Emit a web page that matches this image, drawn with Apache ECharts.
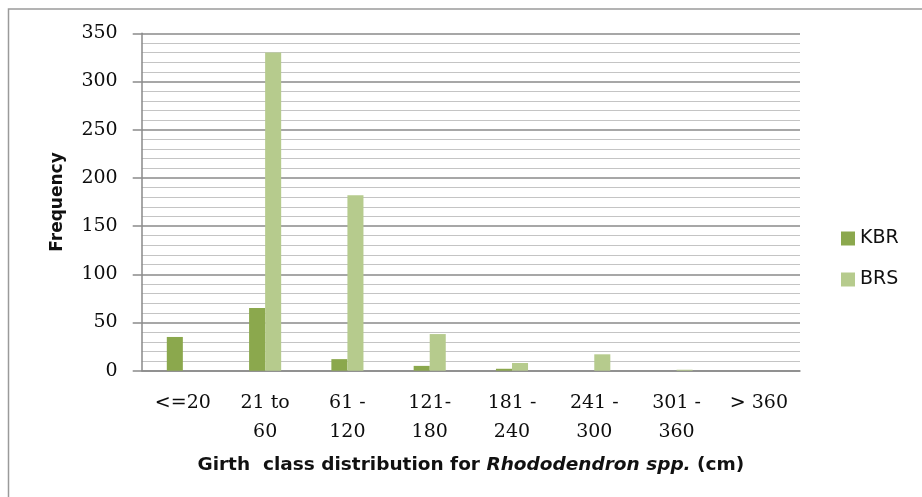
<!DOCTYPE html>
<html>
<head>
<meta charset="utf-8">
<script src="https://cdn.jsdelivr.net/npm/echarts@6/dist/echarts.min.js"></script>
<style>
html,body{margin:0;padding:0;background:#fff;}
#chart{width:922px;height:497px;}
</style>
</head>
<body>
<div id="chart"></div>
<script>
var categories = ['<=20', '21 to\n60', '61 -\n120', '121-\n180', '181 -\n240', '241 -\n300', '301 -\n360', '> 360'];
var kbrValues = [35, 65, 12, 5, 2, 0, 0, 0];
var brsValues = [0, 330, 182, 38, 8, 17, 1, 0];
var seriesNames = ['KBR', 'BRS'];
var yTicks = [0, 50, 100, 150, 200, 250, 300, 350];

var chart = echarts.init(document.getElementById('chart'), null, {renderer: 'canvas'});
var serif = '"DejaVu Serif", serif';
var sans = '"DejaVu Sans", sans-serif';
chart.setOption({
  animation: false,
  backgroundColor: '#ffffff',
  graphic: [{
    type: 'rect',
    shape: {x: 8.5, y: 9, width: 1200, height: 1200},
    style: {fill: 'none', stroke: '#9a9a9a', lineWidth: 1.5},
    silent: true,
    z: -1
  }],
  grid: {left: 141.7, right: 122, top: 33.3, bottom: 126.3, containLabel: false},
  legend: {
    data: seriesNames,
    orient: 'vertical',
    left: 841,
    top: 229,
    padding: 0,
    itemWidth: 14,
    itemHeight: 14,
    itemGap: 22,
    icon: 'rect',
    textStyle: {fontFamily: sans, fontSize: 19, color: '#111'}
  },
  xAxis: {
    type: 'category',
    data: categories,
    axisLine: {show: true, lineStyle: {color: '#8a8a8a', width: 1.5}},
    axisTick: {show: false},
    axisLabel: {
      interval: 0,
      fontFamily: serif,
      fontSize: 19,
      lineHeight: 29,
      color: '#0d0d0d',
      margin: 18
    },
    name: 'Girth  class distribution for {i|Rhododendron spp.} (cm)',
    nameLocation: 'middle',
    nameGap: 85,
    nameTextStyle: {
      fontFamily: sans,
      fontWeight: 'bold',
      fontSize: 18.5,
      color: '#111',
      rich: {i: {fontFamily: sans, fontWeight: 'bold', fontStyle: 'italic', fontSize: 18.5, color: '#111'}}
    }
  },
  yAxis: {
    type: 'value',
    min: yTicks[0],
    max: yTicks[yTicks.length - 1],
    interval: 50,
    name: 'Frequency',
    nameLocation: 'middle',
    nameGap: 76,
    nameTextStyle: {fontFamily: sans, fontWeight: 'bold', fontSize: 17, color: '#111'},
    axisLine: {show: true, lineStyle: {color: '#8a8a8a', width: 1.5}},
    axisTick: {show: true, length: 9, inside: false, lineStyle: {color: '#8a8a8a', width: 1.5}},
    axisLabel: {fontFamily: serif, fontSize: 19, color: '#0d0d0d', margin: 24},
    splitLine: {show: true, lineStyle: {color: '#8a8a8a', width: 1.5}},
    minorTick: {show: false, splitNumber: 5},
    minorSplitLine: {show: true, lineStyle: {color: '#c4c4c4', width: 1.2}}
  },
  series: [
    {
      name: seriesNames[0],
      type: 'bar',
      data: kbrValues,
      barGap: '0%',
      barCategoryGap: '61%',
      itemStyle: {color: '#8ba84d'}
    },
    {
      name: seriesNames[1],
      type: 'bar',
      data: brsValues,
      barGap: '0%',
      barCategoryGap: '61%',
      itemStyle: {color: '#b6cb8d'}
    }
  ]
});
</script>
</body>
</html>
